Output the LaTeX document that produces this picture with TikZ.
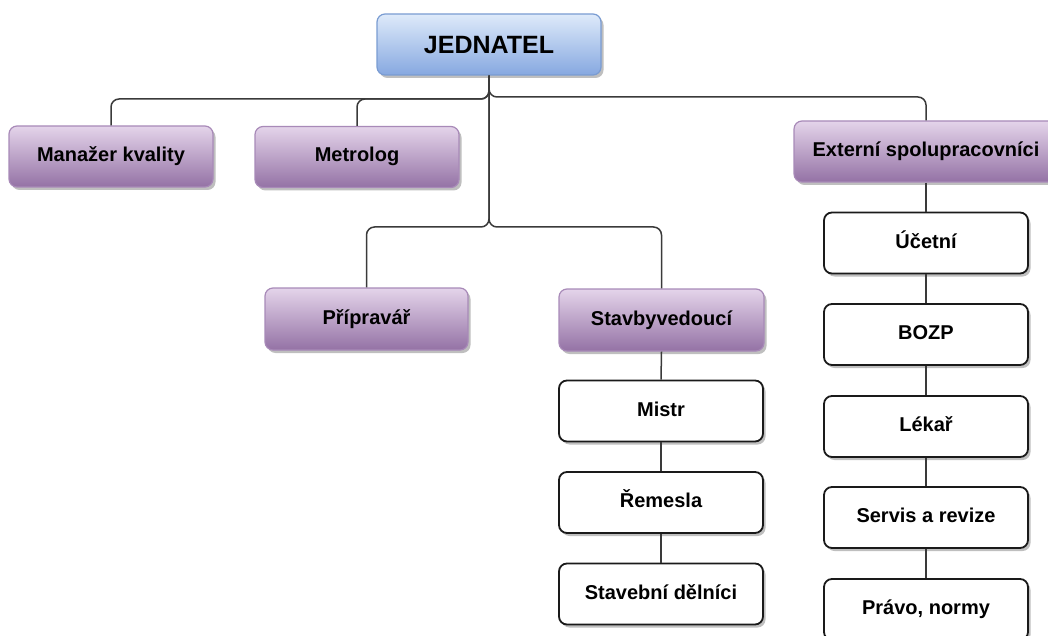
\documentclass[tikz,border=0pt]{standalone}
\usepackage{fontspec}
\setmainfont{Liberation Sans}
\usetikzlibrary{shadows}
\definecolor{pTop}{RGB}{228,212,234}
\definecolor{pBot}{RGB}{148,114,165}
\definecolor{pEdge}{RGB}{168,138,184}
\definecolor{bTop}{RGB}{222,234,250}
\definecolor{bBot}{RGB}{134,168,224}
\definecolor{bEdge}{RGB}{122,156,210}
\definecolor{lineC}{RGB}{58,58,58}
\definecolor{boxEdge}{RGB}{26,26,26}
\tikzset{
  basebox/.style={rounded corners=8pt, minimum width=204pt, minimum height=61pt, inner sep=0pt,
    font=\bfseries\fontsize{20}{24}\selectfont, text=black, text height=14.5pt, text depth=4.5pt,
    drop shadow={shadow xshift=2.5pt, shadow yshift=-3pt, fill=black, opacity=0.25}},
  topbox/.style={basebox, minimum width=224pt, draw=bEdge, line width=1.2pt, top color=bTop, bottom color=bBot,
    font=\bfseries\fontsize{25}{30}\selectfont, text height=18pt, text depth=0pt},
  purplebox/.style={basebox, draw=pEdge, line width=1.2pt, top color=pTop, bottom color=pBot},
  whitebox/.style={basebox, draw=boxEdge, line width=1.8pt, fill=white},
  conn/.style={draw=lineC, line width=1.5pt, rounded corners=8pt}
}
\begin{document}
\begin{tikzpicture}[x=1pt,y=-1pt]
\useasboundingbox (0,0) rectangle (1048,636);
% nodes
\node[topbox] (J) at (489,44.5) {JEDNATEL};
\node[purplebox] (Man) at (111,156.5) {Manažer kvality};
\node[purplebox] (Met) at (357,157) {Metrolog};
\node[purplebox, minimum width=264pt] (Ext) at (926,151.5) {Externí spolupracovníci};
\node[purplebox, minimum width=203pt, minimum height=62pt] (Prip) at (366.5,319) {Přípravář};
\node[purplebox, minimum width=205pt, minimum height=62pt] (Stav) at (661.5,320) {Stavbyvedoucí};
\node[whitebox] (Mistr) at (661,411) {Mistr};
\node[whitebox] (Rem) at (661,502.5) {Řemesla};
\node[whitebox] (Del) at (661,594) {Stavební dělníci};
\node[whitebox] (Uc) at (926,243) {Účetní};
\node[whitebox] (Boz) at (926,334.5) {BOZP};
\node[whitebox] (Lek) at (926,426.5) {Lékař};
\node[whitebox] (Ser) at (926,517.5) {Servis a revize};
\node[whitebox] (Pra) at (926,609.5) {Právo, normy};
% connectors
\coordinate (jl) at (J.south |- 0,99);
\draw[conn] (J.south) |- (Man.north |- jl) -- (Man.north);
\draw[conn] (J.south) |- (Met.north |- jl) -- (Met.north);
\draw[conn] (J.south) |- (Ext.north |- 0,97) -- (Ext.north);
\draw[conn] (J.south) |- (Prip.north |- 0,227) -- (Prip.north);
\draw[conn] (J.south) |- (Stav.north |- 0,227) -- (Stav.north);
\draw[conn] (Stav.south) -- (Mistr.north);
\draw[conn] (Mistr.south) -- (Rem.north);
\draw[conn] (Rem.south) -- (Del.north);
\draw[conn] (Ext.south) -- (Uc.north);
\draw[conn] (Uc.south) -- (Boz.north);
\draw[conn] (Boz.south) -- (Lek.north);
\draw[conn] (Lek.south) -- (Ser.north);
\draw[conn] (Ser.south) -- (Pra.north);
\end{tikzpicture}
\end{document}
